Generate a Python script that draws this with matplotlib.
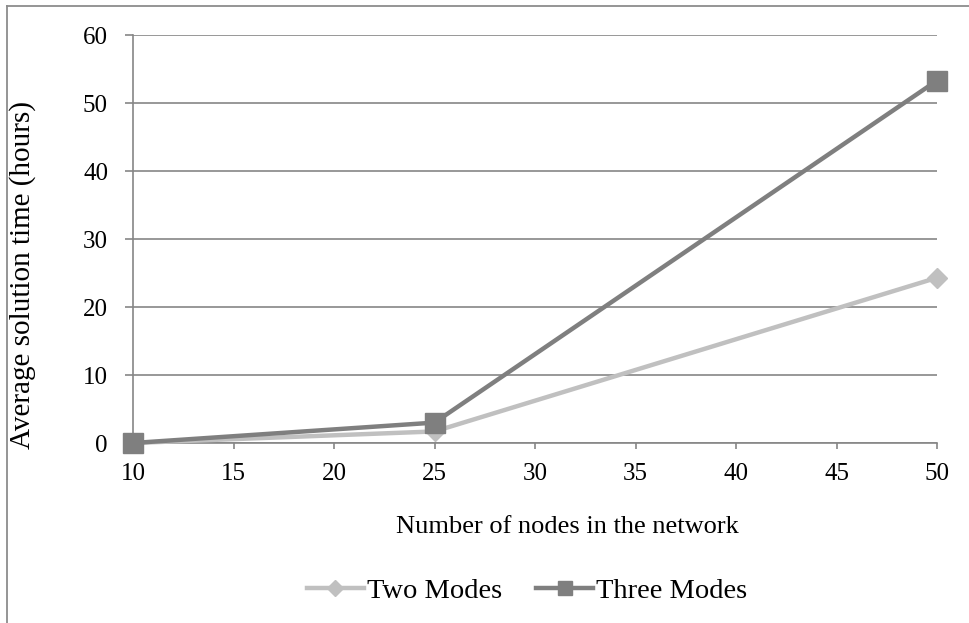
#!/usr/bin/env python3
"""Average solution time vs. network size, Excel-like grey line chart."""
import matplotlib
matplotlib.use("Agg")
import matplotlib.pyplot as plt
from matplotlib.lines import Line2D

# data
nodes = [10, 25, 50]
two_modes = [0.0, 1.7, 24.3]
three_modes = [0.0, 3.0, 53.3]
series_names = ["Two Modes", "Three Modes"]
x_ticks = [10, 15, 20, 25, 30, 35, 40, 45, 50]
y_ticks = [0, 10, 20, 30, 40, 50, 60]

plt.rcParams["font.family"] = ["Liberation Serif", "DejaVu Serif"]
plt.rcParams["font.size"] = 18

axis_grey = "#868686"

fig = plt.figure(figsize=(9.69, 6.23), dpi=100)
ax = fig.add_axes([133 / 969, 1 - 443 / 623, 804 / 969, 408 / 623])

# outer chart border (only top and left visible in the crop)
fig.add_artist(Line2D([7 / 969, 7 / 969], [0, 1 - 6 / 623], transform=fig.transFigure,
                      color="#8c8c8c", lw=1.3))
fig.add_artist(Line2D([7 / 969, 1], [1 - 6 / 623, 1 - 6 / 623], transform=fig.transFigure,
                      color="#8c8c8c", lw=1.3))

ax.plot(nodes, two_modes, color="#c0c0c0", lw=3.2, marker="D", markersize=10.5,
        label=series_names[0], clip_on=False, zorder=3)
ax.plot(nodes, three_modes, color="#7f7f7f", lw=3.2, marker="s", markersize=14,
        label=series_names[1], clip_on=False, zorder=4)

ax.set_xlim(10, 50)
ax.set_ylim(0, 60)
ax.set_xticks(x_ticks)
ax.set_yticks(y_ticks)
ax.yaxis.grid(True, color=axis_grey, lw=1.2)
ax.set_axisbelow(True)

for side in ("top", "right"):
    ax.spines[side].set_visible(False)
for side in ("left", "bottom"):
    ax.spines[side].set_color(axis_grey)
    ax.spines[side].set_linewidth(1.2)

ax.tick_params(axis="y", direction="out", length=6, width=1.2, color=axis_grey, pad=12)
ax.tick_params(axis="x", direction="out", length=4.5, width=1.2, color=axis_grey, pad=10)

ax.set_xlabel("Number of nodes in the network", va="center", fontsize=19)
ax.xaxis.set_label_coords((567 - 133) / 804, (443 - 527) / 408)
ax.set_ylabel("Average solution time (hours)", va="center", fontsize=21)
ax.yaxis.set_label_coords((23 - 133) / 804, (443 - 275) / 408)

fig.legend(loc="center", bbox_to_anchor=(527 / 969, 1 - 591 / 623), ncol=2, frameon=False,
           fontsize=20.5, handlelength=2.0, handletextpad=0.1, columnspacing=1.2,
           markerscale=0.75)

fig.savefig("out.png", dpi=100)
